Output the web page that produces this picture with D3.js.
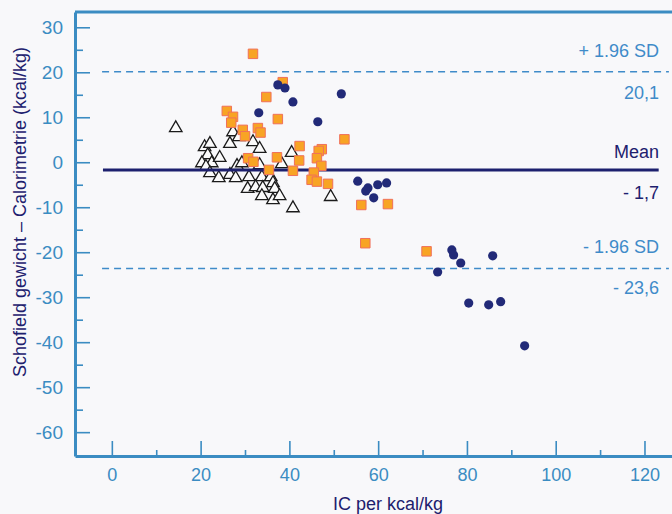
<!DOCTYPE html>
<html>
<head>
<meta charset="utf-8">
<script src="https://cdn.jsdelivr.net/npm/d3@7"></script>
<style>
  html, body { margin: 0; padding: 0; background: #f8f8fa; }
  svg { display: block; font-family: "Liberation Sans", Arial, sans-serif; }
</style>
</head>
<body>
<svg id="chart" width="672" height="514"></svg>
<script>
// Open triangles
const triangles = [
  [14.4, 7.6], [20.9, 3.4], [22.1, 4.1], [21.6, 1.6], [20.3, -0.2], [22.5, -0.2],
  [21.2, -1.0], [24.3, 1.0], [22.1, -2.4], [24.1, -3.5], [26.6, 4.1], [27.3, 6.7],
  [28.6, 5.6], [31.8, 4.5], [33.3, 3.0], [28.2, -0.8], [29.3, -0.2], [33.3, -0.6],
  [38.3, -0.4], [40.5, 2.1], [26.6, -2.8], [27.9, -3.5], [30.9, -3.3], [33.8, -3.3],
  [35.8, -3.3], [30.6, -5.9], [32.4, -5.5], [34.0, -5.7], [36.3, -4.6], [36.7, -5.9],
  [33.8, -7.5], [36.3, -8.4], [37.8, -7.5], [40.8, -10.2], [49.3, -7.7]
];

// Orange squares
const squares = [
  [31.8, 24.1], [25.9, 11.4], [27.3, 10.1], [26.9, 8.8], [29.5, 7.2], [30.0, 5.8],
  [32.9, 7.6], [33.5, 6.6], [34.8, 14.5], [37.4, 9.6], [38.5, 17.8], [42.3, 3.6],
  [42.2, 0.4], [37.2, 1.1], [30.7, 0.9], [31.9, 0.1], [35.4, -1.7], [40.8, -1.9],
  [47.3, 2.9], [46.6, 2.5], [46.2, 0.9], [47.2, -0.8], [45.5, -2.3], [45.0, -3.9],
  [46.2, -4.3], [48.7, -4.8], [52.4, 5.1], [56.2, -9.5], [62.2, -9.3], [57.1, -18.0],
  [70.9, -19.8]
];

// Filled dots
const dots = [
  [33.1, 11.0], [37.4, 17.2], [39.0, 16.5], [40.8, 13.4], [46.4, 9.0], [51.7, 15.2],
  [55.4, -4.2], [57.7, -5.7], [57.2, -6.4], [59.9, -5.0], [61.9, -4.6], [59.0, -7.9],
  [76.6, -19.5], [77.0, -20.6], [78.6, -22.4], [85.8, -20.8], [73.4, -24.4],
  [80.4, -31.3], [84.9, -31.7], [87.6, -31.0], [93.0, -40.8]
];

const meanDiff = -1.7;
const upperLimit = 20.1;
const lowerLimit = -23.6;

const xTicks = [0, 20, 40, 60, 80, 100, 120];
const xMinorTicks = [10, 30, 50, 70, 90, 110];
const yTicks = [30, 20, 10, 0, -10, -20, -30, -40, -50, -60];
const yMinorTicks = [25, 15, 5, -5, -15, -25, -35, -45, -55];

const axisColor = "#3b8cc2";
const navy = "#1d206e";
const lightBlue = "#3f8bc9";

const svg = d3.select("#chart");

const x = d3.scaleLinear().domain([-8.3, 126.2]).range([75, 672]);
const y = d3.scaleLinear().domain([-65.3, 33.4]).range([456, 12]);

// plain hyphen for negatives, like the print
const fmt = d => String(d);

// axes
const yMinor = svg.append("g")
  .attr("transform", `translate(${x(-8.3)},0)`)
  .call(d3.axisLeft(y).tickValues(yMinorTicks).tickSize(-8).tickSizeOuter(0).tickFormat(""));
yMinor.select(".domain").remove();

const yAxis = svg.append("g")
  .attr("transform", `translate(${x(-8.3)},0)`)
  .call(d3.axisLeft(y).tickValues(yTicks).tickSize(-15).tickSizeOuter(0).tickPadding(12).tickFormat(fmt));

const xMinor = svg.append("g")
  .attr("transform", `translate(0,${y(-65.3)})`)
  .call(d3.axisBottom(x).tickValues(xMinorTicks).tickSize(-6).tickSizeOuter(0).tickFormat(""));
xMinor.select(".domain").remove();

const xAxis = svg.append("g")
  .attr("transform", `translate(0,${y(-65.3)})`)
  .call(d3.axisBottom(x).tickValues(xTicks).tickSize(-15).tickSizeOuter(0).tickPadding(12).tickFormat(fmt));

svg.selectAll(".tick line").attr("stroke", axisColor).attr("stroke-width", 1.6);
svg.selectAll(".domain").attr("stroke", axisColor).attr("stroke-width", 3);
yAxis.selectAll("text").attr("fill", axisColor).style("font-size", "19px");
xAxis.selectAll("text").attr("fill", axisColor).style("font-size", "18px");

// top border
svg.append("line")
  .attr("x1", x(-8.3)).attr("x2", x(126.2))
  .attr("y1", y(33.4)).attr("y2", y(33.4))
  .attr("stroke", axisColor).attr("stroke-width", 3);

// limits of agreement
[upperLimit, lowerLimit].forEach(v => {
  svg.append("line")
    .attr("x1", x(-2.2)).attr("x2", x(125.5))
    .attr("y1", y(v)).attr("y2", y(v))
    .attr("stroke", lightBlue).attr("stroke-width", 1.5)
    .attr("stroke-dasharray", "7,5");
});

// triangles
svg.append("g").selectAll("path")
  .data(triangles)
  .enter()
  .append("path")
  .attr("transform", d => `translate(${x(d[0])},${y(d[1])})`)
  .attr("d", d3.symbol(d3.symbolTriangle, 68))
  .attr("fill", "#fbfbfb")
  .attr("stroke", "#1b1b1b")
  .attr("stroke-width", 1.3);

// mean line
svg.append("line")
  .attr("x1", x(-2)).attr("x2", x(123.2))
  .attr("y1", y(meanDiff)).attr("y2", y(meanDiff))
  .attr("stroke", navy).attr("stroke-width", 3);

// squares
svg.append("g").selectAll("path")
  .data(squares)
  .enter()
  .append("path")
  .attr("transform", d => `translate(${x(d[0])},${y(d[1])})`)
  .attr("d", d3.symbol(d3.symbolSquare, 90))
  .attr("fill", "#f8a424")
  .attr("stroke", "#f0705a")
  .attr("stroke-width", 1);

// dots
svg.append("g").selectAll("circle")
  .data(dots)
  .enter()
  .append("circle")
  .attr("cx", d => x(d[0]))
  .attr("cy", d => y(d[1]))
  .attr("r", 4.6)
  .attr("fill", "#222a78");

// right hand labels
const labels = [
  { text: "+ 1.96 SD", v: upperLimit, dy: -15, color: lightBlue },
  { text: "20,1", v: upperLimit, dy: 27, color: lightBlue },
  { text: "Mean", v: meanDiff, dy: -12, color: navy },
  { text: "- 1,7", v: meanDiff, dy: 29, color: navy },
  { text: "- 1.96 SD", v: lowerLimit, dy: -15, color: lightBlue },
  { text: "- 23,6", v: lowerLimit, dy: 26, color: lightBlue }
];

svg.append("g").selectAll("text")
  .data(labels)
  .enter()
  .append("text")
  .attr("x", 659)
  .attr("y", d => y(d.v) + d.dy)
  .attr("text-anchor", "end")
  .attr("fill", d => d.color)
  .style("font-size", "18px")
  .text(d => d.text);

// axis titles
svg.append("text")
  .attr("x", 388)
  .attr("y", 510)
  .attr("text-anchor", "middle")
  .attr("fill", navy)
  .style("font-size", "18px")
  .text("IC per kcal/kg");

svg.append("text")
  .attr("transform", "translate(26,212) rotate(-90)")
  .attr("text-anchor", "middle")
  .attr("fill", navy)
  .style("font-size", "18px")
  .text("Schofield gewicht – Calorimetrie (kcal/kg)");
</script>
</body>
</html>
